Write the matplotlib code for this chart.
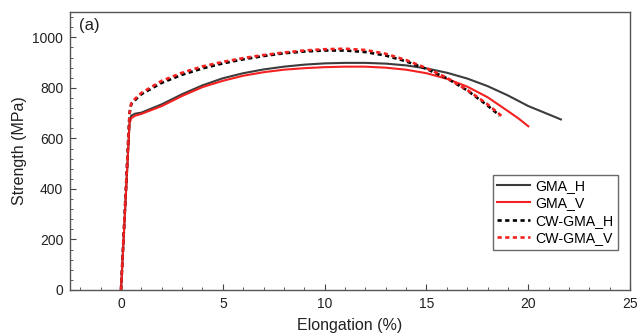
import matplotlib
matplotlib.use("Agg")
import matplotlib.pyplot as plt
from matplotlib.ticker import MultipleLocator

plt.rcParams['font.family'] = ['Liberation Sans', 'DejaVu Sans']

gma_h_x = [0, 0.42, 0.5, 0.7, 1.0, 2, 3, 4, 5, 6, 7, 8, 9, 10, 11, 12, 13, 14, 15, 16, 17, 18, 19, 20, 21, 21.6]
gma_h_y = [0, 665, 690, 698, 702, 735, 775, 810, 838, 858, 873, 884, 892, 897, 899, 899, 896, 889, 877, 860, 837, 807, 770, 728, 695, 675]

gma_v_x = [0, 0.42, 0.5, 0.7, 1, 2, 3, 4, 5, 6, 7, 8, 9, 10, 11, 12, 13, 14, 15, 16, 17, 18, 19, 19.5, 20]
gma_v_y = [0, 660, 680, 690, 697, 728, 768, 803, 828, 848, 862, 872, 878, 882, 884, 884, 880, 872, 858, 836, 805, 763, 708, 680, 648]

cw_h_x = [0, 0.42, 0.5, 0.6, 1, 2, 3, 4, 5, 6, 7, 8, 9, 10, 11, 12, 13, 14, 15, 16, 17, 18, 18.6]
cw_h_y = [0, 700, 735, 745, 775, 820, 852, 877, 897, 913, 926, 937, 944, 948, 948, 942, 928, 905, 875, 838, 790, 730, 690]

cw_v_x = [0, 0.42, 0.5, 0.6, 1, 2, 3, 4, 5, 6, 7, 8, 9, 10, 11, 12, 13, 14, 15, 16, 17, 18, 18.7]
cw_v_y = [0, 700, 738, 750, 780, 828, 860, 885, 903, 918, 930, 940, 948, 953, 955, 950, 935, 910, 878, 840, 792, 735, 688]

labels = ["GMA_H", "GMA_V", "CW-GMA_H", "CW-GMA_V"]

fig = plt.figure(figsize=(6.43, 3.36), dpi=100)
ax = fig.add_axes([0.109, 0.137, 0.871, 0.827])

dark = '#3c3c3c'
red = '#f52020'
ax.plot(gma_h_x, gma_h_y, color=dark, lw=1.5, label=labels[0])
ax.plot(gma_v_x, gma_v_y, color=red, lw=1.5, label=labels[1])
ax.plot(cw_h_x, cw_h_y, color='black', lw=1.9, ls=(0, (1.6, 1.3)), label=labels[2])
ax.plot(cw_v_x, cw_v_y, color=red, lw=1.9, ls=(0, (1.6, 1.3)), label=labels[3])

ax.set_xlim(-2.5, 25)
ax.set_ylim(0, 1100)
ax.xaxis.set_major_locator(MultipleLocator(5))
ax.xaxis.set_minor_locator(MultipleLocator(1))
ax.yaxis.set_major_locator(MultipleLocator(200))
ax.yaxis.set_minor_locator(MultipleLocator(40))
ax.tick_params(which='both', direction='in', colors='#444444', labelcolor='#222222', labelsize=10)
ax.tick_params(which='major', length=4, pad=5)
ax.tick_params(which='minor', length=2)
for s in ax.spines.values():
    s.set_color('#555555')
    s.set_linewidth(1.0)

ax.set_xlabel("Elongation (%)", fontsize=11.5, color='#222222', labelpad=5)
ax.set_ylabel("Strength (MPa)", fontsize=11.5, color='#222222', labelpad=4)
ax.text(0.016, 0.98, "(a)", transform=ax.transAxes, fontsize=12, va='top', ha='left', color='#222222')

leg = ax.legend(loc='lower right', bbox_to_anchor=(0.978, 0.145), fontsize=10.2, frameon=True,
                fancybox=False, edgecolor='#444444', handlelength=2.3, handletextpad=0.4,
                borderpad=0.3, labelspacing=0.25, borderaxespad=0)
leg.get_frame().set_linewidth(1.0)

fig.savefig("out.png", dpi=100)
